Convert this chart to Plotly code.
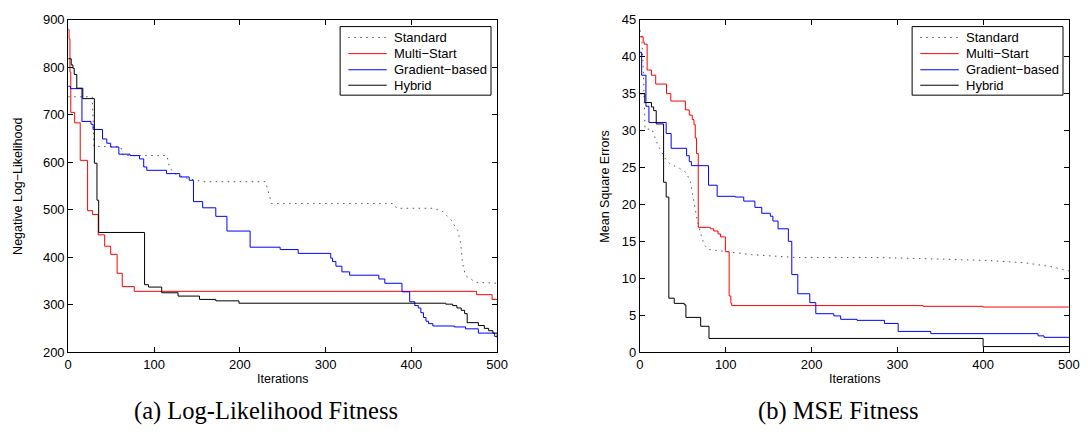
import plotly.graph_objects as go

# ---------------- data: Log-Likelihood fitness (left) ----------------
ll_std_iter = [0, 28, 30, 61, 64, 115, 118, 122, 126, 141, 157, 230, 237, 379, 383, 425, 436, 446, 454, 457.5, 459.5, 463, 475, 500]
ll_std_val = [738, 738, 633, 633, 614, 614, 590, 580, 574, 565, 559, 559, 513, 513, 503, 503, 497, 479, 456, 429, 388, 361, 347, 345]

ll_ms_iter = [0, 1, 2, 3, 7.5, 14, 22.6, 28.4, 35, 42.5, 49.5, 57, 63, 77, 476, 494, 500]
ll_ms_val = [880, 860, 790, 705, 683, 604, 498, 490, 447, 423, 406, 366, 338, 328, 321, 311, 311]

ll_gb_iter = [0, 2.7, 16, 26.5, 29, 40, 45, 49.5, 59, 72, 83, 88, 91.6, 114.6, 130, 141, 146, 156.7, 172, 185, 212,
              247, 268, 306, 308, 312, 319, 328, 362, 369, 389, 398, 404, 408, 411, 414, 417, 420, 425, 450, 463, 478, 497, 500]
ll_gb_val = [760, 755, 686, 680, 669, 649, 640, 632, 617, 614, 607, 590, 583, 576, 569, 562, 517, 504, 486, 455, 421,
             416, 408, 398, 391, 381, 369, 362, 354, 345, 327, 306, 298, 293, 283, 273, 265, 260, 255, 253, 249, 240, 233, 230]

ll_hy_iter = [0, 3.5, 5.5, 7, 10, 17, 30.5, 33.5, 35.5, 89, 93.5, 109, 128, 153, 172, 199, 440, 448, 453, 458, 462, 465, 478, 485, 490, 495, 500]
ll_hy_val = [818, 805, 798, 785, 756, 734, 598, 520, 452, 342, 337, 325, 318, 311, 308, 303, 301, 298, 293, 288, 281, 262, 256, 250, 245, 240, 233]

# ---------------- data: MSE fitness (right) ----------------
mse_std_iter = [0, 2, 4, 6, 14, 21, 29, 35, 46, 54, 59, 63, 67, 71, 75, 80, 103, 130, 184, 280, 349, 406, 448, 478, 500]
mse_std_val = [43.6, 43.0, 38.0, 30.2, 30.2, 28.0, 26.3, 25.5, 24.9, 24.3, 23.0, 20.4, 17.7, 16.0, 14.5, 13.9, 13.6, 13.2, 12.8, 12.8, 12.6, 12.4, 12.1, 11.6, 11.0]

mse_ms_iter = [0, 3.8, 5, 8.4, 13.4, 18.4, 31, 36, 53, 57.5, 61, 63, 64.5, 66, 68, 82, 86, 91, 94, 99.6, 104, 106, 107, 330, 400, 500]
mse_ms_val = [42.7, 42.0, 41.7, 38.2, 37.5, 36.3, 35.0, 34.0, 32.8, 32.1, 31.5, 30.8, 29.0, 26.9, 16.9, 16.7, 16.4, 16.0, 15.6, 13.6, 7.6, 6.6, 6.3, 6.2, 6.1, 6.1]

mse_gb_iter = [0, 2, 7, 10.5, 30.6, 36.4, 54.4, 57.5, 60, 80, 90, 111, 121, 134, 142, 152, 155, 161, 173, 177, 184, 198,
               205, 226, 234, 253, 285, 301, 339, 464, 471, 500]
mse_gb_val = [40.6, 37.5, 33.3, 31.1, 29.6, 27.6, 26.6, 25.8, 25.25, 22.6, 21.1, 21.0, 20.45, 19.6, 18.8, 18.4, 17.75, 16.7, 15.0, 10.5, 7.9, 6.7,
              5.2, 4.9, 4.44, 4.3, 3.88, 2.8, 2.5, 2.2, 2.0, 1.9]

mse_hy_iter = [0, 5.7, 13.4, 16, 19, 27.6, 30.6, 33.7, 40, 51.7, 53.6, 70.8, 80.5, 400, 500]
mse_hy_val = [35.0, 33.8, 33.2, 32.7, 30.9, 23.0, 21.0, 7.3, 6.6, 6.4, 4.7, 3.5, 1.85, 0.75, 0.75]

series_names = ["Standard", "Multi\u2212Start", "Gradient\u2212based", "Hybrid"]
x_ticks = [0, 100, 200, 300, 400, 500]
ll_ticks = [200, 300, 400, 500, 600, 700, 800, 900]
mse_ticks = [0, 5, 10, 15, 20, 25, 30, 35, 40, 45]

W, H = 1088, 440
SANS = "Liberation Sans, Arial, sans-serif"
TICKFONT = dict(family=SANS, size=13, color="black")

fig = go.Figure()

styles = [
    dict(color="#555555", width=1, dash="1.5px,4.5px"),
    dict(color="#ff0000", width=1),
    dict(color="#0000ff", width=1),
    dict(color="#000000", width=1),
]
shapes_ = ["linear", "hv", "hv", "hv"]

left = [(ll_std_iter, ll_std_val), (ll_ms_iter, ll_ms_val), (ll_gb_iter, ll_gb_val), (ll_hy_iter, ll_hy_val)]
right = [(mse_std_iter, mse_std_val), (mse_ms_iter, mse_ms_val), (mse_gb_iter, mse_gb_val), (mse_hy_iter, mse_hy_val)]

for i, (xs, ys) in enumerate(left):
    fig.add_trace(go.Scatter(x=xs, y=ys, mode="lines", name=series_names[i],
                             line=dict(shape=shapes_[i], **styles[i]),
                             xaxis="x", yaxis="y", showlegend=False))
for i, (xs, ys) in enumerate(right):
    fig.add_trace(go.Scatter(x=xs, y=ys, mode="lines", name=series_names[i],
                             line=dict(shape=shapes_[i], **styles[i]),
                             xaxis="x2", yaxis="y2", showlegend=False))

y_dom = [1 - 349 / H, 1 - 5 / H]
ax_common = dict(showline=True, linecolor="black", linewidth=1, mirror="ticks",
                 ticks="inside", ticklen=5, tickcolor="black", tickwidth=1,
                 showgrid=False, zeroline=False, tickfont=TICKFONT,
                 ticklabeloverflow="allow")

fig.update_layout(
    width=W, height=H,
    margin=dict(l=0, r=0, t=0, b=0),
    paper_bgcolor="white", plot_bgcolor="white",
    xaxis=dict(domain=[57 / W, 492 / W], range=[0, 500], tickvals=x_ticks, anchor="y", **ax_common),
    yaxis=dict(domain=y_dom, range=[200, 900], tickvals=ll_ticks, anchor="x", **ax_common),
    xaxis2=dict(domain=[636.7 / W, 1071.7 / W], range=[0, 500], tickvals=x_ticks, anchor="y2", **ax_common),
    yaxis2=dict(domain=y_dom, range=[0, 45], tickvals=mse_ticks, anchor="x2", **ax_common),
    showlegend=False,
)

# ---- legends (box, line samples, labels) drawn in paper coordinates ----
def px(x):
    return x / W

def py(y):
    return 1 - y / H

legend_rows = [23.3, 40.0, 56.7, 72.7]
for off in (0, 580):
    fig.add_shape(type="rect", xref="paper", yref="paper",
                  x0=px(332.7 + off), x1=px(485.7 + off), y0=py(83), y1=py(12),
                  line=dict(color="black", width=1), fillcolor="white", layer="above")
    for i, ry in enumerate(legend_rows):
        st = dict(styles[i])
        fig.add_shape(type="line", xref="paper", yref="paper",
                      x0=px(341 + off), x1=px(380 + off), y0=py(ry), y1=py(ry),
                      line=st, layer="above")
        fig.add_annotation(xref="paper", yref="paper", x=px(385 + off), y=py(ry),
                           xanchor="left", yanchor="middle", showarrow=False,
                           text=series_names[i], font=dict(family=SANS, size=13, color="black"))

title_font = dict(family=SANS, size=12.5, color="black")
cap_font = dict(family="Liberation Serif, Times New Roman, serif", size=24.5, color="black")
annos = [
    dict(text="Iterations", x=274.5 / W, y=1 - 377 / H, font=title_font),
    dict(text="Iterations", x=854 / W, y=1 - 377 / H, font=title_font),
    dict(text="Negative Log\u2212Likelihood", x=6 / W, y=1 - 177 / H, textangle=-90, font=title_font),
    dict(text="Mean Square Errors", x=601 / W, y=1 - 177 / H, textangle=-90, font=title_font),
    dict(text="(a) Log-Likelihood Fitness", x=258 / W, y=1 - 410 / H, font=cap_font),
    dict(text="(b) MSE Fitness", x=838 / W, y=1 - 410 / H, font=cap_font),
]
for a in annos:
    fig.add_annotation(xref="paper", yref="paper", xanchor="center", yanchor="middle",
                       showarrow=False, **a)

fig.write_html("out.html")
